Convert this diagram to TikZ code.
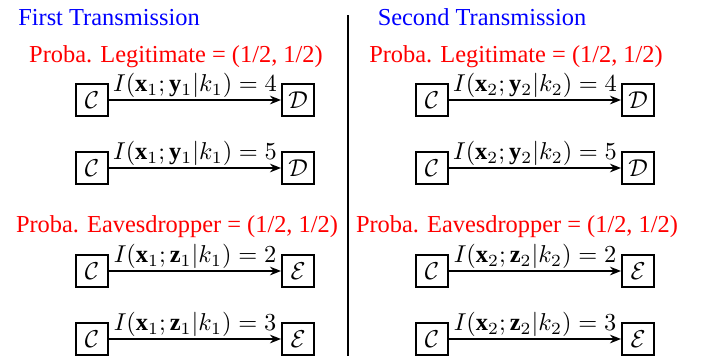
\documentclass[tikz,border=0pt]{standalone}
\usepackage{fontspec}
\setmainfont{Liberation Serif}
\usepackage{amsmath}
\usetikzlibrary{arrows.meta, positioning}

\begin{document}
\begin{tikzpicture}[
  x = 0.41pt, y = -0.41pt,
  node distance = 70.5pt,
  party/.style = {rectangle, draw, line width=1pt, minimum size=13pt, inner sep=0pt},
  arr/.style   = {-{Stealth[length=4.5pt, width=3.5pt]}, line width=1pt},
  lbl/.style   = {above, inner sep=0.5pt},
  title/.style = {text=blue, anchor=base},
  proba/.style = {text=red, anchor=base},
]
\useasboundingbox (0,0) rectangle (710,356);
% headings
\node[title] (t1) at (109,25) {First Transmission};
\node[title] (t2) at (482,25) {Second Transmission};
\node[proba] (pl1) at (176,62) {Proba. Legitimate = (1/2, 1/2)};
\node[proba] (pl2) at (516,62) {Proba. Legitimate = (1/2, 1/2)};
\node[proba] (pe1) at (177,232) {Proba. Eavesdropper = (1/2, 1/2)};
\node[proba] (pe2) at (517,232) {Proba. Eavesdropper = (1/2, 1/2)};
% separator
\draw[line width=1pt] (348,15) -- (348,356);
% one column per transmission
\foreach \k/\dx in {1/0, 2/340} {
  \node[party] (ca\k) at (92+\dx,100) {$\mathcal{C}$};
  \node[party, right=of ca\k] (da\k) {$\mathcal{D}$};
  \node[party] (cb\k) at (92+\dx,168) {$\mathcal{C}$};
  \node[party, right=of cb\k] (db\k) {$\mathcal{D}$};
  \node[party] (cc\k) at (92+\dx,271) {$\mathcal{C}$};
  \node[party, right=of cc\k] (ec\k) {$\mathcal{E}$};
  \node[party] (cd\k) at (92+\dx,339) {$\mathcal{C}$};
  \node[party, right=of cd\k] (ed\k) {$\mathcal{E}$};
  \draw[arr] (ca\k) -- node[lbl] {$I(\mathbf{x}_\k;\mathbf{y}_\k|k_\k)=4$} (da\k);
  \draw[arr] (cb\k) -- node[lbl] {$I(\mathbf{x}_\k;\mathbf{y}_\k|k_\k)=5$} (db\k);
  \draw[arr] (cc\k) -- node[lbl] {$I(\mathbf{x}_\k;\mathbf{z}_\k|k_\k)=2$} (ec\k);
  \draw[arr] (cd\k) -- node[lbl] {$I(\mathbf{x}_\k;\mathbf{z}_\k|k_\k)=3$} (ed\k);
}
\end{tikzpicture}
\end{document}
